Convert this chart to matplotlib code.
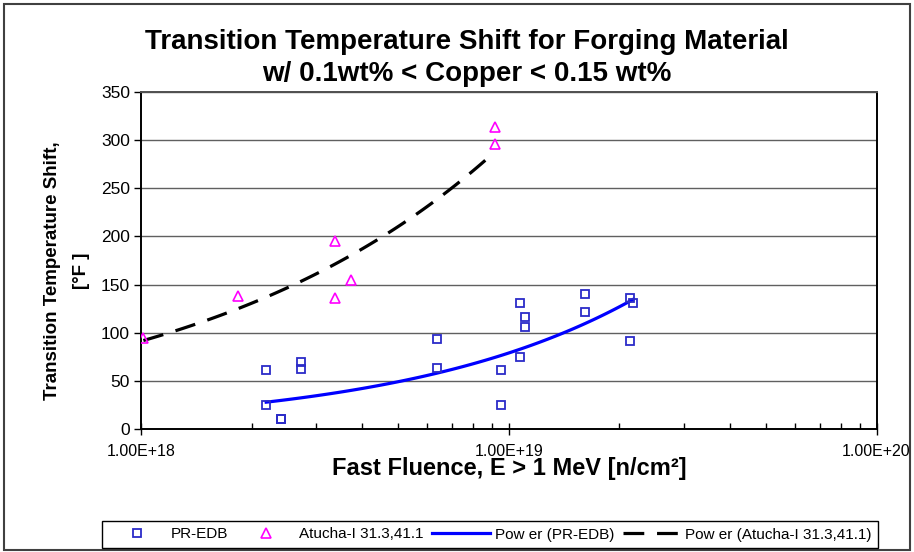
import matplotlib
matplotlib.use('Agg')
import matplotlib.pyplot as plt
import numpy as np
from matplotlib.patches import Rectangle
from matplotlib.ticker import LogLocator, FixedLocator, NullFormatter

plt.rcParams['font.family'] = ['Liberation Sans', 'DejaVu Sans']

# PR-EDB surveillance data (fluence n/cm^2, shift degF)
PR_FLUENCE = [2.19e18, 2.19e18, 2.40e18, 2.40e18, 2.72e18, 2.72e18,
              6.39e18, 6.39e18, 9.5e18, 9.5e18, 1.07e19, 1.11e19,
              1.11e19, 1.07e19, 1.61e19, 1.61e19, 2.14e19, 2.18e19, 2.14e19]
PR_SHIFT = [61, 25, 10, 10, 70, 62,
            93, 63, 61, 25, 131, 116,
            106, 75, 140, 121, 136, 131, 91]

# Atucha-I 31.3,41.1
AT_FLUENCE = [1.015e18, 1.83e18, 3.36e18, 3.36e18, 3.73e18, 9.15e18, 9.15e18]
AT_SHIFT = [95, 138, 136, 195, 155, 314, 296]

Y_TICKS = [0, 50, 100, 150, 200, 250, 300, 350]
X_TICKS = [1e18, 1e19, 1e20]
X_LABELS = ['1.00E+18', '1.00E+19', '1.00E+20']


def power_fit(x, y):
    """Excel-style power trendline: least squares on ln(y) vs ln(x)."""
    x = np.asarray(x, float)
    y = np.asarray(y, float)
    b, ln_a = np.polyfit(np.log(x), np.log(y), 1)
    xs = np.logspace(np.log10(x.min()), np.log10(x.max()), 100)
    return xs, np.exp(ln_a) * xs ** b


W, H = 914, 552
fig = plt.figure(figsize=(W / 100, H / 100), dpi=100)
ax = fig.add_axes([141 / W, 1 - 429 / H, (876.5 - 141) / W, (429 - 92) / H])

# horizontal gridlines
for v in Y_TICKS[1:]:
    ax.axhline(v, color='#606060', lw=1.0, zorder=1)

ax.plot(PR_FLUENCE, PR_SHIFT, ls='none', marker='s', ms=6.2, mfc='none',
        mec='#2b2bc8', mew=1.3, zorder=4, label='PR-EDB')
ax.plot(AT_FLUENCE, AT_SHIFT, ls='none', marker='^', ms=7.5, mfc='none',
        mec='#ff00ff', mew=1.2, zorder=4, label='Atucha-I 31.3,41.1')

fx, fy = power_fit(PR_FLUENCE, PR_SHIFT)
ax.plot(fx, fy, color='#0000ff', lw=2.3, zorder=3, label='Pow er (PR-EDB)')
fx, fy = power_fit(AT_FLUENCE, AT_SHIFT)
ax.plot(fx, fy, color='black', lw=2.3, dashes=(6.5, 4), zorder=3,
        label='Pow er (Atucha-I 31.3,41.1)')

ax.set_xscale('log')
ax.set_xlim(1e18, 1e20)
ax.set_ylim(0, 350)
ax.xaxis.set_major_locator(FixedLocator(X_TICKS))
ax.set_xticklabels(X_LABELS)
ax.xaxis.set_minor_locator(LogLocator(base=10, subs=np.arange(2, 10)))
ax.xaxis.set_minor_formatter(NullFormatter())
ax.set_yticks(Y_TICKS)

ax.tick_params(axis='x', which='major', direction='inout', length=9,
               width=1, labelsize=11.5, pad=6)
ax.tick_params(axis='x', which='minor', direction='in', length=4, width=1)
ax.tick_params(axis='y', direction='out', length=5, width=1, labelsize=12.5,
               pad=3)

for side in ['left', 'bottom', 'right']:
    ax.spines[side].set_color('black')
    ax.spines[side].set_linewidth(1.4)
ax.spines['top'].set_color('#505050')
ax.spines['top'].set_linewidth(1.4)

fig.text(467 / W, 1 - 42 / H, 'Transition Temperature Shift for Forging Material',
         ha='center', va='center', fontsize=20, fontweight='bold')
fig.text(467 / W, 1 - 74 / H, 'w/ 0.1wt% < Copper < 0.15 wt%',
         ha='center', va='center', fontsize=20, fontweight='bold')

fig.text(53 / W, 1 - 271 / H, 'Transition Temperature Shift,', rotation=90,
         ha='center', va='center', fontsize=13.5, fontweight='bold')
fig.text(81 / W, 1 - 271 / H, '[°F ]', rotation=90,
         ha='center', va='center', fontsize=13.5, fontweight='bold')

fig.text(509 / W, 1 - 469 / H, 'Fast Fluence, E > 1 MeV [n/cm²]',
         ha='center', va='center', fontsize=17, fontweight='bold')

leg = fig.legend(loc='center', bbox_to_anchor=(490 / W, 1 - 534.5 / H),
                 ncol=4, fontsize=11, frameon=True, fancybox=False,
                 edgecolor='black', framealpha=1, handlelength=3.8,
                 columnspacing=0.56, handletextpad=0.3, borderpad=0.4,
                 borderaxespad=0)
leg.get_frame().set_linewidth(1.0)

fig.add_artist(Rectangle((4 / W, 2 / H), (910 - 4) / W, (548 - 2) / H,
                         transform=fig.transFigure, fill=False,
                         edgecolor='#404040', lw=1.5))

fig.savefig('out.png', dpi=100)
